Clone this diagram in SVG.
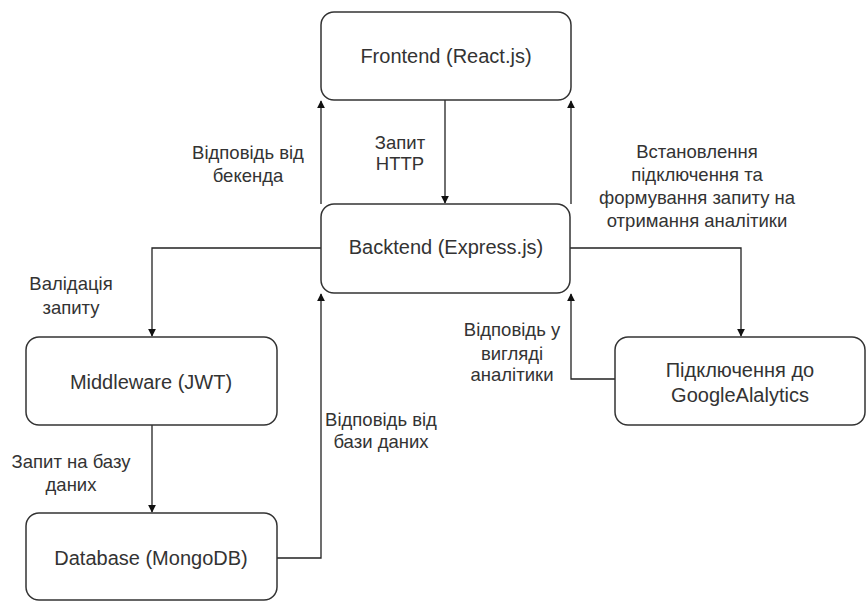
<svg xmlns="http://www.w3.org/2000/svg" width="868" height="601" viewBox="0 0 868 601">
<defs>
<marker id="arr" viewBox="0 0 10 10" refX="9" refY="5" markerWidth="8" markerHeight="8" orient="auto" markerUnits="userSpaceOnUse">
<path d="M0,0 L10,5 L0,10 z" fill="#111"/>
</marker>
</defs>
<style>
.box{fill:#fff;stroke:#333;stroke-width:1.5}
.nt{font-family:"Liberation Sans",Arial,sans-serif;font-size:20px;fill:#333;text-anchor:middle}
.lt{font-family:"Liberation Sans",Arial,sans-serif;font-size:18.5px;fill:#333;text-anchor:middle}
.c{fill:none;stroke:#222;stroke-width:1.3;marker-end:url(#arr)}
</style>
<rect width="868" height="601" fill="#fff"/>
<g id="connectors">
<path class="c" d="M445,100 V203"/>
<path class="c" d="M321,204 V101"/>
<path class="c" d="M571,204 V101"/>
<path class="c" d="M321,248 H152 V336"/>
<path class="c" d="M152,425 V512"/>
<path class="c" d="M277,558 H321 V294"/>
<path class="c" d="M570,248 H741 V336"/>
<path class="c" d="M615,379 H571 V294"/>
</g>
<g id="labels">
<text class="lt" x="248" y="158.5">Відповідь від</text>
<text class="lt" x="248" y="181.5">бекенда</text>
<text class="lt" x="400" y="148.5">Запит</text>
<text class="lt" x="400" y="169.5">HTTP</text>
<text class="lt" x="697" y="157.5">Встановлення</text>
<text class="lt" x="697" y="181">підключення та</text>
<text class="lt" x="697" y="204">формування запиту на</text>
<text class="lt" x="697" y="227">отримання аналітики</text>
<text class="lt" x="71" y="289.5">Валідація</text>
<text class="lt" x="71" y="314">запиту</text>
<text class="lt" x="512" y="336">Відповідь у</text>
<text class="lt" x="512" y="360">вигляді</text>
<text class="lt" x="512" y="381">аналітики</text>
<text class="lt" x="381" y="426">Відповідь від</text>
<text class="lt" x="381" y="448">бази даних</text>
<text class="lt" x="71" y="468">Запит на базу</text>
<text class="lt" x="71" y="491">даних</text>
</g>
<g id="frontend">
<rect class="box" x="321" y="12" width="250" height="88" rx="13"/>
<text class="nt" x="446" y="63">Frontend (React.js)</text>
</g>
<g id="backend">
<rect class="box" x="321" y="204" width="249" height="89" rx="13"/>
<text class="nt" x="446" y="254">Backtend (Express.js)</text>
</g>
<g id="middleware">
<rect class="box" x="26" y="337" width="251" height="88" rx="13"/>
<text class="nt" x="151" y="389">Middleware (JWT)</text>
</g>
<g id="database">
<rect class="box" x="26" y="513" width="251" height="87" rx="13"/>
<text class="nt" x="151" y="565">Database (MongoDB)</text>
</g>
<g id="google">
<rect class="box" x="615" y="337" width="250" height="88" rx="13"/>
<text class="nt" x="740" y="377">Підключення до</text>
<text class="nt" x="740" y="402">GoogleAlalytics</text>
</g>
</svg>
